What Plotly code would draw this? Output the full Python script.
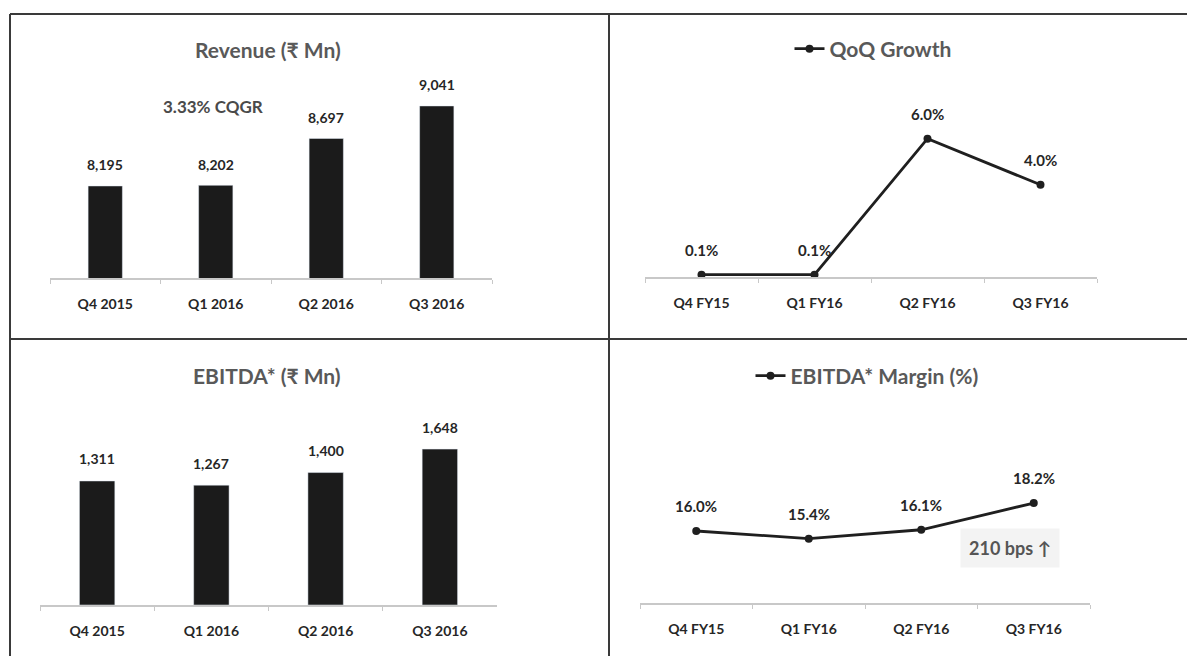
import plotly.graph_objects as go

# ---- data ----
rev_quarters = ["Q4 2015", "Q1 2016", "Q2 2016", "Q3 2016"]
revenue = [8195, 8202, 8697, 9041]
revenue_labels = ["8,195", "8,202", "8,697", "9,041"]

fy_quarters = ["Q4 FY15", "Q1 FY16", "Q2 FY16", "Q3 FY16"]
qoq_growth = [0.1, 0.1, 6.0, 4.0]
qoq_labels = ["0.1%", "0.1%", "6.0%", "4.0%"]

ebitda = [1311, 1267, 1400, 1648]
ebitda_labels = ["1,311", "1,267", "1,400", "1,648"]

ebitda_margin = [16.0, 15.4, 16.1, 18.2]
margin_labels = ["16.0%", "15.4%", "16.1%", "18.2%"]

W, H = 1187, 656
FONT = "Lato, 'Open Sans', sans-serif"
DARK = "#262626"
GREY_TITLE = "#595959"


def px_x(x):
    return x / W


def px_y(y):
    return 1 - y / H


fig = go.Figure()

# Revenue bars
fig.add_trace(go.Bar(x=rev_quarters, y=revenue, marker_color="#1b1b1b", width=0.31,
                     xaxis="x", yaxis="y", showlegend=False, hoverinfo="x+y"))
# QoQ growth line
fig.add_trace(go.Scatter(x=fy_quarters, y=qoq_growth, mode="lines+markers", name="QoQ Growth",
                         line=dict(color="#1f1f1f", width=2.8), marker=dict(size=8, color="#1f1f1f"),
                         xaxis="x2", yaxis="y2", legend="legend"))
# EBITDA bars
fig.add_trace(go.Bar(x=rev_quarters, y=ebitda, marker_color="#1b1b1b", width=0.31,
                     xaxis="x3", yaxis="y3", showlegend=False, hoverinfo="x+y"))
# EBITDA margin line
fig.add_trace(go.Scatter(x=fy_quarters, y=ebitda_margin, mode="lines+markers", name="EBITDA* Margin (%)",
                         line=dict(color="#1f1f1f", width=2.8), marker=dict(size=8, color="#1f1f1f"),
                         xaxis="x4", yaxis="y4", legend="legend2"))

xcommon = dict(showgrid=False, zeroline=False, showline=True, linecolor="#c8c8c8", linewidth=1.5,
               ticks="outside", tickson="boundaries", ticklen=4, tickcolor="#c8c8c8",
               tickfont=dict(family=FONT, size=14, color=DARK, weight="bold"),
               ticklabelstandoff=12, fixedrange=True, range=[-0.5, 3.5])
ycommon = dict(visible=False, showgrid=False, zeroline=False, fixedrange=True)

lab_font = dict(family=FONT, size=14, color=DARK, weight="bold")
line_lab_font = dict(family=FONT, size=15, color=DARK, weight="bold")

annotations = []
for xq, yv, t in zip(rev_quarters, revenue, revenue_labels):
    annotations.append(dict(x=xq, y=yv, xref="x", yref="y", text=t, showarrow=False, yshift=21,
                            font=lab_font))
for xq, yv, t in zip(fy_quarters, qoq_growth, qoq_labels):
    annotations.append(dict(x=xq, y=yv, xref="x2", yref="y2", text=t, showarrow=False, yshift=25,
                            font=line_lab_font))
for xq, yv, t in zip(rev_quarters, ebitda, ebitda_labels):
    annotations.append(dict(x=xq, y=yv, xref="x3", yref="y3", text=t, showarrow=False, yshift=22,
                            font=lab_font))
for xq, yv, t in zip(fy_quarters, ebitda_margin, margin_labels):
    annotations.append(dict(x=xq, y=yv, xref="x4", yref="y4", text=t, showarrow=False, yshift=25,
                            font=line_lab_font))

# Titles
annotations += [
    dict(x=px_x(268), y=px_y(50), xref="paper", yref="paper", xanchor="center", yanchor="middle",
         text="Revenue (₹ Mn)", showarrow=False,
         font=dict(family=FONT, size=21, color=GREY_TITLE, weight="bold")),
    dict(x=px_x(213), y=px_y(107), xref="paper", yref="paper", xanchor="center", yanchor="middle",
         text="3.33% CQGR", showarrow=False,
         font=dict(family=FONT, size=17, color="#4a4a4a", weight="bold")),
    dict(x=px_x(267), y=px_y(376), xref="paper", yref="paper", xanchor="center", yanchor="middle",
         text="EBITDA* (₹ Mn)", showarrow=False,
         font=dict(family=FONT, size=21, color=GREY_TITLE, weight="bold")),
    dict(x=px_x(1010), y=px_y(548), xref="paper", yref="paper", xanchor="center", yanchor="middle",
         text="210 bps ↑", showarrow=False, bgcolor="#f3f3f3", borderpad=8,
         font=dict(family=FONT, size=18, color="#555555", weight="bold")),
]

shapes = [
    dict(type="line", xref="paper", yref="paper", x0=px_x(10), x1=1, y0=px_y(14), y1=px_y(14),
         line=dict(color="#3a3a3a", width=2)),
    dict(type="line", xref="paper", yref="paper", x0=px_x(10), x1=px_x(10), y0=px_y(14), y1=0,
         line=dict(color="#3a3a3a", width=2)),
    dict(type="line", xref="paper", yref="paper", x0=px_x(609), x1=px_x(609), y0=px_y(14), y1=0,
         line=dict(color="#3a3a3a", width=2)),
    dict(type="line", xref="paper", yref="paper", x0=px_x(10), x1=1, y0=px_y(339), y1=px_y(339),
         line=dict(color="#3a3a3a", width=2)),
]

fig.update_layout(
    width=W, height=H, margin=dict(l=0, r=0, t=0, b=0),
    paper_bgcolor="white", plot_bgcolor="rgba(0,0,0,0)",
    font=dict(family=FONT),
    xaxis=dict(domain=[px_x(50), px_x(492)], anchor="y", **xcommon),
    yaxis=dict(domain=[px_y(278), px_y(70)], anchor="x", range=[7222, 9421], **ycommon),
    xaxis2=dict(domain=[px_x(645), px_x(1097)], anchor="y2", **xcommon),
    yaxis2=dict(domain=[px_y(277), px_y(70)], anchor="x2", range=[0, 8.98], **ycommon),
    xaxis3=dict(domain=[px_x(40), px_x(497)], anchor="y3", **xcommon),
    yaxis3=dict(domain=[px_y(605), px_y(400)], anchor="x3", range=[0, 2167], **ycommon),
    xaxis4=dict(domain=[px_x(640), px_x(1090)], anchor="y4", **xcommon),
    yaxis4=dict(domain=[px_y(603), px_y(400)], anchor="x4", range=[10.34, 26.3], **ycommon),
    legend=dict(x=px_x(873), y=px_y(49), xanchor="center", yanchor="middle", bgcolor="rgba(0,0,0,0)",
                font=dict(family=FONT, size=21, color=GREY_TITLE, weight="bold"), itemwidth=30),
    legend2=dict(x=px_x(867), y=px_y(376), xanchor="center", yanchor="middle", bgcolor="rgba(0,0,0,0)",
                 font=dict(family=FONT, size=21, color=GREY_TITLE, weight="bold"), itemwidth=30),
    annotations=annotations,
    shapes=shapes,
    bargap=0.69,
)

fig.write_html("out.html", config={"displayModeBar": False},
               post_script="document.body.style.margin='0';document.body.style.padding='0';")
